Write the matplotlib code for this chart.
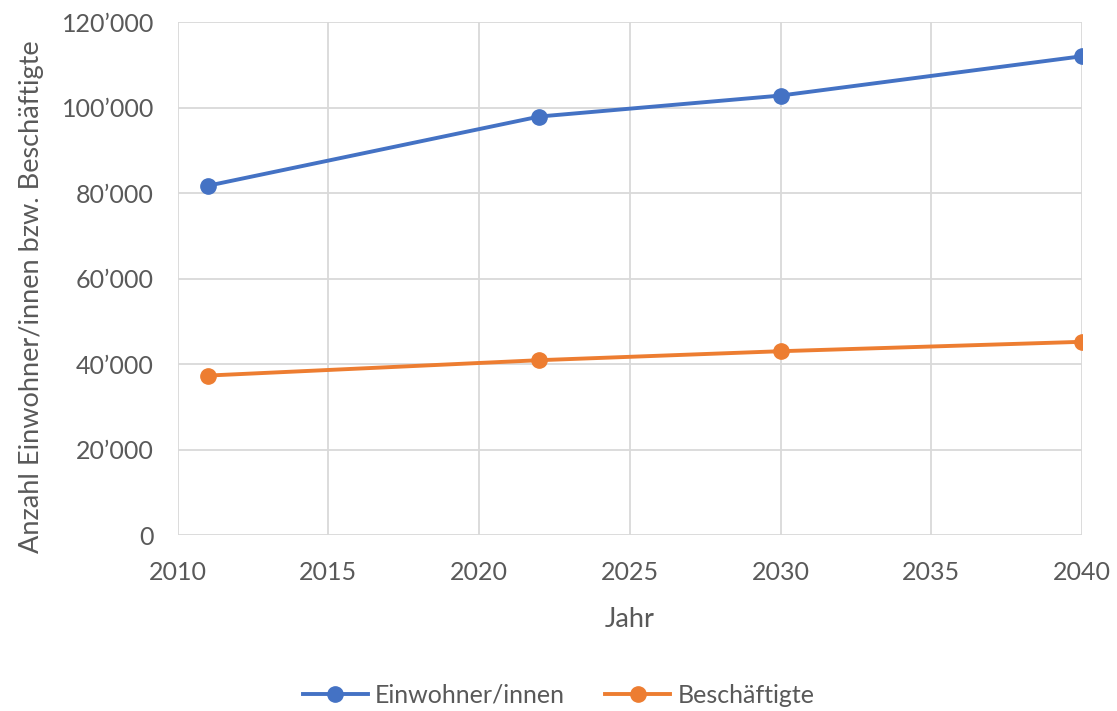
import matplotlib.pyplot as plt
from matplotlib.ticker import FuncFormatter

plt.rcParams['font.family'] = ['Lato', 'DejaVu Sans']

jahre = [2011, 2022, 2030, 2040]
einwohner = [81700, 97900, 102800, 112000]
beschaeftigte = [37300, 40900, 43000, 45200]

blue = '#4472C4'
orange = '#ED7D31'
text_col = '#595959'

fig = plt.figure(figsize=(11.17, 7.11), dpi=100)
ax = fig.add_axes([0.159, 0.2475, 0.8097, 0.7215])

ax.plot(jahre, einwohner, color=blue, lw=2.8, marker='o', ms=11, label='Einwohner/innen', zorder=3)
ax.plot(jahre, beschaeftigte, color=orange, lw=2.8, marker='o', ms=11, label='Beschäftigte', zorder=3)

ax.set_xlim(2010, 2040)
ax.set_ylim(0, 120000)
ax.set_xticks(range(2010, 2041, 5))
ax.set_yticks(range(0, 120001, 20000))
ax.yaxis.set_major_formatter(FuncFormatter(lambda v, p: '0' if v == 0 else f"{int(v):,}".replace(',', '\u2019')))

for s in ax.spines.values():
    s.set_visible(False)
ax.grid(True, color='#D9D9D9', lw=1.3)
ax.set_axisbelow(True)
ax.tick_params(length=0, labelsize=18, labelcolor=text_col)
ax.tick_params(axis='y', pad=17)
ax.tick_params(axis='x', pad=19)

ax.set_xlabel('Jahr', fontsize=19.5, color=text_col, labelpad=16)
ax.set_ylabel('Anzahl Einwohner/innen bzw. Beschäftigte', fontsize=19.5, color=text_col)
ax.yaxis.set_label_coords(-0.148, 0.465)

fig.legend(loc='center', bbox_to_anchor=(0.5, 0.022), ncol=2, frameon=False,
           fontsize=18, labelcolor=text_col, handlelength=2.6, columnspacing=1.6, handletextpad=0.3)

fig.savefig('out.png', dpi=100)
